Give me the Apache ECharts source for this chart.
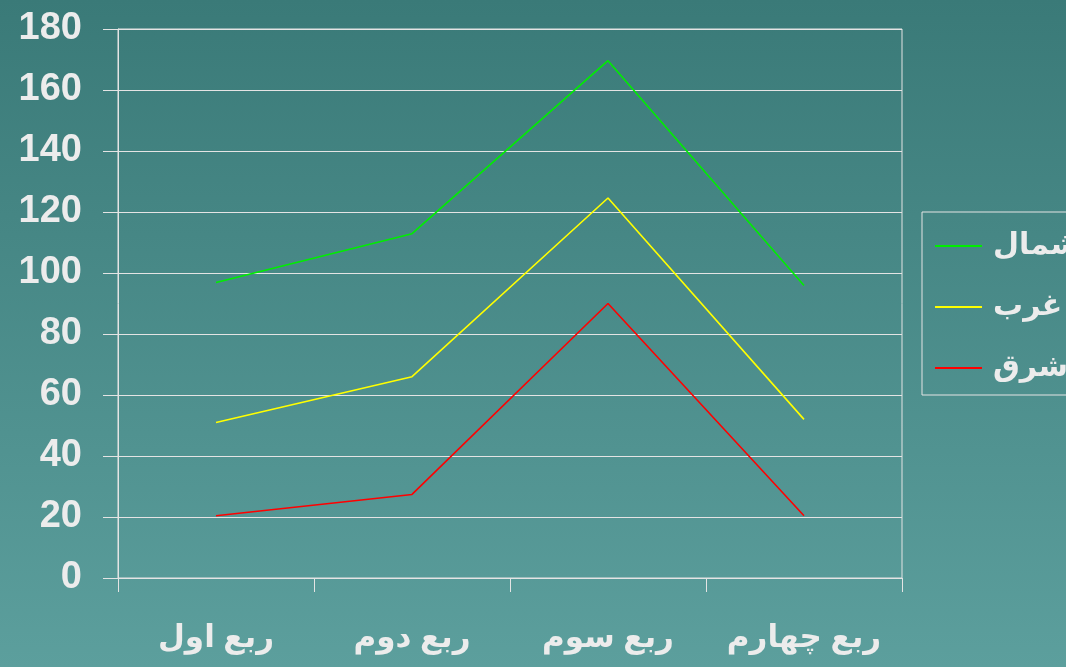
<!DOCTYPE html>
<html>
<head>
<meta charset="utf-8">
<script src="https://cdn.jsdelivr.net/npm/echarts@6/dist/echarts.min.js"></script>
<style>
html,body{margin:0;padding:0;width:1066px;height:667px;overflow:hidden;}
#c{width:1066px;height:667px;background:linear-gradient(to bottom,#3a7a78 0%,#5c9f9d 100%);}
</style>
</head>
<body>
<div id="c"></div>
<script>
var categories = ['ربع اول', 'ربع دوم', 'ربع سوم', 'ربع چهارم'];
var eastValues = [20.4, 27.4, 90, 20.4];
var westValues = [30.6, 38.6, 34.6, 31.6];
var northValues = [45.9, 46.9, 45, 43.9];
var yTicks = { min: 0, max: 180, interval: 20 };

var FONT = "'Liberation Sans', Arial, 'DejaVu Sans', sans-serif";
var TXT = '#ececec';
var LINE = '#e4e4e4';

var chart = echarts.init(document.getElementById('c'), null, { renderer: 'canvas' });
chart.setOption({
  backgroundColor: 'transparent',
  animation: false,
  grid: { left: 118, right: 164, top: 29, bottom: 89, show: true, borderColor: LINE, borderWidth: 1 },
  legend: {
    orient: 'vertical',
    left: 922, top: 212,
    data: ['شمال', 'غرب', 'شرق'],
    icon: 'rect',
    itemWidth: 47, itemHeight: 2,
    itemGap: 31,
    padding: [19, 30, 12, 13],
    borderColor: LINE, borderWidth: 1,
    textStyle: { color: TXT, fontFamily: FONT, fontWeight: 'bold', fontSize: 30, padding: [0, 0, 0, 6] }
  },
  xAxis: {
    type: 'category',
    data: categories,
    boundaryGap: true,
    axisLine: { lineStyle: { color: LINE, width: 1 } },
    axisTick: { show: true, inside: false, length: 14, interval: 0, lineStyle: { color: LINE } },
    axisLabel: { color: TXT, fontFamily: FONT, fontWeight: 'bold', fontSize: 31, margin: 45, interval: 0, hideOverlap: false },
    splitLine: { show: false }
  },
  yAxis: {
    type: 'value',
    min: yTicks.min, max: yTicks.max, interval: yTicks.interval,
    axisLine: { show: true, lineStyle: { color: LINE, width: 1 } },
    axisTick: { show: true, length: 15, lineStyle: { color: LINE } },
    axisLabel: { color: TXT, fontFamily: FONT, fontWeight: 'bold', fontSize: 38, margin: 36 },
    splitLine: { show: true, lineStyle: { color: LINE, width: 1 } }
  },
  series: [
    { name: 'شرق', type: 'line', stack: 'total', data: eastValues, showSymbol: false, symbol: 'none',
      itemStyle: { color: '#ff0000' }, lineStyle: { color: '#ff0000', width: 1.6 } },
    { name: 'غرب', type: 'line', stack: 'total', data: westValues, showSymbol: false, symbol: 'none',
      itemStyle: { color: '#ffff00' }, lineStyle: { color: '#ffff00', width: 1.6 } },
    { name: 'شمال', type: 'line', stack: 'total', data: northValues, showSymbol: false, symbol: 'none',
      itemStyle: { color: '#00ee00' }, lineStyle: { color: '#00ee00', width: 1.6 } }
  ]
});
</script>
</body>
</html>
